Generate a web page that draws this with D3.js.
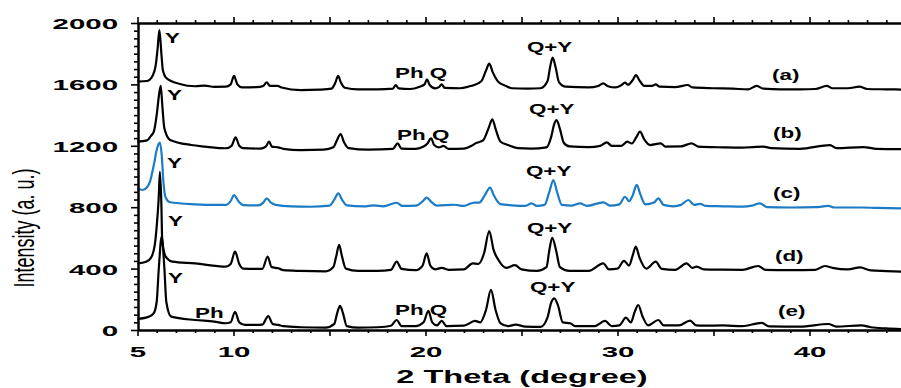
<!DOCTYPE html>
<html>
<head>
<meta charset="utf-8">
<script src="https://cdn.jsdelivr.net/npm/d3@7/dist/d3.min.js"></script>
<style>
body { margin: 0; background: #fff; }
svg { display: block; }
text { font-family: "Liberation Sans", Arial, sans-serif; }
</style>
</head>
<body>
<script>
// XRD patterns, [2 theta (deg), intensity (a.u.)]
const traceA = [[5.0,1618],[5.5,1622],[5.8,1660],[5.95,1726],[6.05,1837],[6.14,1954],[6.25,1791],[6.32,1694],[6.5,1642],[7.2,1603],[8.0,1588],[8.5,1592],[9.0,1584],[9.6,1585],[9.85,1600],[10.03,1655],[10.2,1600],[10.45,1580],[11.2,1582],[11.55,1590],[11.73,1614],[11.9,1590],[12.3,1590],[12.5,1580],[13.5,1563],[14.5,1566],[15.1,1572],[15.3,1610],[15.45,1655],[15.6,1610],[15.8,1578],[16.5,1568],[17.5,1568],[18.3,1572],[18.45,1596],[18.6,1574],[19.2,1570],[19.7,1585],[19.95,1600],[20.08,1633],[20.22,1596],[20.5,1574],[20.7,1582],[20.84,1600],[21.0,1578],[21.8,1575],[22.3,1588],[22.5,1595],[22.9,1620],[23.15,1690],[23.32,1735],[23.5,1680],[23.8,1615],[24.1,1595],[24.5,1575],[25.3,1572],[26.0,1575],[26.35,1620],[26.5,1720],[26.62,1774],[26.78,1710],[26.95,1615],[27.3,1585],[28.5,1580],[29.0,1590],[29.26,1607],[29.5,1588],[29.9,1580],[30.2,1595],[30.39,1611],[30.55,1598],[30.8,1630],[30.96,1661],[31.15,1625],[31.4,1590],[31.8,1590],[31.99,1600],[32.2,1585],[33.0,1582],[33.66,1596],[33.9,1580],[35.0,1575],[36.0,1572],[36.8,1568],[37.25,1590],[37.6,1572],[38.5,1568],[39.5,1568],[40.3,1570],[40.9,1590],[41.2,1575],[42.0,1575],[42.6,1585],[43.0,1570],[44.0,1568],[45.0,1566]];
const traceB = [[5.0,1227],[5.5,1235],[5.7,1265],[5.85,1292],[6.0,1401],[6.12,1531],[6.21,1590],[6.3,1450],[6.38,1330],[6.45,1292],[6.7,1238],[7.8,1205],[8.5,1195],[9.6,1184],[9.9,1200],[10.11,1255],[10.3,1200],[10.5,1185],[11.4,1182],[11.68,1195],[11.85,1227],[12.0,1195],[12.33,1190],[12.6,1180],[13.5,1172],[14.7,1175],[15.2,1190],[15.4,1240],[15.58,1277],[15.75,1225],[16.0,1185],[17.0,1175],[18.3,1180],[18.55,1216],[18.75,1182],[19.5,1180],[19.9,1195],[20.1,1215],[20.29,1249],[20.45,1205],[20.7,1190],[20.93,1199],[21.2,1180],[22.0,1182],[22.4,1200],[22.6,1216],[23.0,1235],[23.3,1320],[23.48,1373],[23.65,1310],[23.9,1228],[24.3,1205],[24.8,1185],[25.5,1182],[26.3,1190],[26.55,1260],[26.7,1340],[26.83,1368],[27.0,1310],[27.2,1220],[27.5,1196],[28.5,1192],[29.1,1200],[29.44,1222],[29.7,1200],[30.2,1200],[30.51,1227],[30.75,1215],[31.0,1260],[31.17,1292],[31.4,1240],[31.7,1205],[32.25,1216],[32.5,1195],[33.3,1196],[33.86,1216],[34.2,1195],[35.5,1190],[36.5,1188],[37.6,1194],[38.0,1185],[39.5,1180],[41.07,1205],[41.4,1185],[42.8,1192],[43.5,1180],[45.0,1178]];
const traceC = [[5.0,923],[5.25,912],[5.5,930],[5.65,966],[5.85,1075],[6.02,1184],[6.17,1221],[6.26,1140],[6.35,966],[6.45,868],[6.7,832],[8.0,819],[9.0,815],[9.6,815],[9.85,840],[10.03,879],[10.25,840],[10.5,814],[11.3,812],[11.55,830],[11.73,858],[11.95,830],[12.2,815],[13.0,805],[14.0,803],[15.0,810],[15.25,850],[15.46,890],[15.65,850],[15.9,812],[16.8,805],[17.3,812],[17.8,806],[18.5,829],[18.8,808],[19.5,810],[19.85,838],[20.06,862],[20.3,835],[20.6,810],[21.5,816],[22.0,808],[22.49,829],[22.8,830],[23.1,880],[23.36,928],[23.55,880],[23.9,820],[24.5,812],[25.2,808],[25.53,825],[25.8,808],[26.2,815],[26.45,900],[26.66,977],[26.85,900],[27.1,815],[27.6,810],[28.05,825],[28.4,808],[29.26,832],[29.6,810],[30.1,818],[30.39,868],[30.6,840],[30.8,880],[31.0,945],[31.2,880],[31.45,818],[31.9,830],[32.13,858],[32.4,815],[32.9,806],[33.3,815],[33.69,847],[34.0,815],[34.3,822],[34.6,808],[35.5,806],[36.5,804],[37.0,810],[37.42,825],[37.8,800],[39.0,798],[40.3,800],[40.98,808],[41.3,798],[42.7,798],[43.5,795],[45.0,792]];
const traceD = [[5.0,434],[5.45,445],[5.7,470],[5.9,554],[6.02,706],[6.1,850],[6.17,1030],[6.24,836],[6.29,575],[6.47,478],[6.82,445],[8.0,434],[9.6,413],[9.85,430],[10.08,510],[10.3,430],[10.5,400],[11.5,398],[11.78,478],[11.98,410],[12.33,402],[12.6,390],[13.5,385],[14.8,382],[15.2,410],[15.35,480],[15.5,554],[15.65,480],[15.85,400],[16.5,385],[17.5,385],[18.2,392],[18.5,445],[18.75,398],[19.5,390],[19.85,420],[20.06,500],[20.25,420],[20.5,395],[20.84,405],[21.2,392],[22.0,395],[22.46,434],[22.75,430],[23.05,500],[23.32,645],[23.55,520],[23.8,456],[24.2,405],[24.66,423],[25.0,395],[25.8,385],[26.3,410],[26.45,520],[26.6,601],[26.8,520],[27.0,410],[27.5,385],[28.5,385],[29.26,434],[29.55,395],[30.0,400],[30.34,450],[30.6,420],[30.8,490],[30.95,543],[31.15,470],[31.5,400],[31.99,445],[32.3,398],[33.0,392],[33.6,434],[33.9,405],[34.12,413],[34.5,395],[35.5,393],[36.5,392],[37.33,417],[37.7,392],[39.0,390],[40.3,392],[40.8,417],[41.2,405],[42.0,395],[42.63,408],[43.2,388],[44.0,384],[45.0,380]];
const traceE = [[5.0,72],[5.6,87],[5.85,110],[6.0,184],[6.11,402],[6.26,608],[6.4,402],[6.5,184],[6.75,87],[8.0,65],[9.0,55],[9.6,44],[9.85,50],[10.08,119],[10.3,50],[10.6,33],[11.5,35],[11.81,91],[12.05,38],[12.33,33],[12.6,25],[13.5,18],[14.8,15],[15.25,40],[15.4,110],[15.55,158],[15.7,110],[15.9,25],[16.5,15],[17.5,18],[18.2,28],[18.5,65],[18.75,25],[19.5,25],[19.9,50],[20.15,124],[20.35,50],[20.6,30],[20.84,59],[21.1,25],[22.0,28],[22.58,59],[22.85,50],[23.15,130],[23.41,261],[23.65,130],[23.9,45],[24.3,25],[24.7,35],[25.2,22],[26.0,20],[26.35,80],[26.55,180],[26.71,206],[26.9,160],[27.15,50],[27.53,44],[27.8,25],[28.8,25],[29.35,59],[29.7,25],[30.1,30],[30.44,80],[30.7,50],[30.9,120],[31.08,163],[31.3,90],[31.6,30],[32.13,65],[32.4,30],[33.2,30],[33.78,61],[34.1,30],[34.5,28],[35.5,30],[36.5,25],[37.5,47],[37.9,24],[39.5,22],[40.98,39],[41.4,22],[42.7,30],[43.2,18],[44.0,10],[45.0,4]];

const sampleNames = ["(a)", "(b)", "(c)", "(d)", "(e)"];
const sampleLabelPos = [[38.05,1629],[38.1,1251],[38.1,860],[38.2,450],[38.36,91]];

// phase labels: [text, 2theta, intensity] (text start, baseline)
const phaseLabels = [
  ["Y", 6.43, 1870], ["Y", 6.54, 1498], ["Y", 6.54, 1055], ["Y", 6.59, 678], ["Y", 6.59, 306],
  ["Ph Q", 18.41, 1642], ["Ph Q", 18.52, 1238], ["Ph Q", 18.41, 98], ["Ph", 8.0, 78],
  ["Q+Y", 25.28, 1811], ["Q+Y", 25.39, 1407], ["Q+Y", 25.23, 1003], ["Q+Y", 25.28, 632], ["Q+Y", 25.44, 248]
];

const xTickMajor = [5, 10, 15, 20, 25, 30, 35, 40, 45];
const xTickLabels = [5, 10, 20, 30, 40];
const yTickLabels = [0, 400, 800, 1200, 1600, 2000];

const width = 901, height = 388;
const traces = [traceA, traceB, traceC, traceD, traceE];
const colors = ["#000", "#000", "#1b7bc6", "#000", "#000"];
const sx = 1.9;   // horizontal stretch of the source figure's lettering
const lx = 1.6;

const svg = d3.select("body").append("svg")
  .attr("width", width).attr("height", height);

const x = d3.scaleLinear().domain([5, 45]).range([137.5, 905.5]);
const y = d3.scaleLinear().domain([0, 2000]).range([330, 23]);

// traces
const line = d3.line()
  .x(d => x(d[0]))
  .y(d => y(d[1]))
  .curve(d3.curveMonotoneX);

svg.append("g").selectAll("path")
  .data(traces)
  .join("path")
  .attr("d", line)
  .attr("fill", "none")
  .attr("stroke", (d, i) => colors[i])
  .attr("stroke-width", 2.2)
  .attr("stroke-linejoin", "round");

// axes
const minorX = d3.range(5, 46, 1).filter(v => !xTickMajor.includes(v));
const minorY = d3.range(0, 2001, 50).filter(v => !yTickLabels.includes(v));

function styleAxis(g) {
  g.select(".domain").attr("stroke-width", 2);
  g.selectAll(".tick line").attr("stroke-width", 1.6);
}

// bottom
svg.append("g").attr("transform", "translate(0,330)")
  .call(d3.axisBottom(x).tickValues(minorX).tickSize(3).tickSizeOuter(0).tickFormat(""))
  .call(styleAxis);
svg.append("g").attr("transform", "translate(0,330)")
  .call(d3.axisBottom(x).tickValues(xTickMajor).tickSize(6).tickSizeOuter(0)
    .tickFormat(d => xTickLabels.includes(d) ? d : ""))
  .call(styleAxis)
  .call(g => g.selectAll(".tick text")
    .attr("y", 27).attr("dy", 0)
    .attr("transform", `scale(${sx},1)`)
    .attr("fill", "#000")
    .style("font-size", "15.5px").style("font-weight", "bold"));

// top
svg.append("g").attr("transform", "translate(0,23)")
  .call(d3.axisTop(x).tickValues(minorX).tickSize(3).tickSizeOuter(0).tickFormat(""))
  .call(styleAxis);
svg.append("g").attr("transform", "translate(0,23)")
  .call(d3.axisTop(x).tickValues(xTickMajor).tickSize(6).tickSizeOuter(0).tickFormat(""))
  .call(styleAxis);

// left
svg.append("g").attr("transform", "translate(138,0)")
  .call(d3.axisLeft(y).tickValues(minorY).tickSize(4).tickSizeOuter(0).tickFormat(""))
  .call(styleAxis);
svg.append("g").attr("transform", "translate(138,0)")
  .call(d3.axisLeft(y).tickValues(yTickLabels).tickSize(7).tickSizeOuter(0).tickFormat(d3.format("d")))
  .call(styleAxis)
  .call(g => g.selectAll(".tick text")
    .attr("x", -20 / sx).attr("dy", "0.36em")
    .attr("transform", `scale(${sx},1)`)
    .attr("fill", "#000")
    .style("font-size", "15.5px").style("font-weight", "bold"));

// axis titles
svg.append("text")
  .attr("transform", `translate(522,383) scale(1.86,1)`)
  .attr("text-anchor", "middle")
  .style("font-size", "17.5px").style("font-weight", "bold")
  .text("2 Theta (degree)");

svg.append("text")
  .attr("transform", `translate(34,228) rotate(-90) scale(1,1.65)`)
  .attr("text-anchor", "middle")
  .style("font-size", "18px")
  .text("Intensity (a. u.)");

// annotations
svg.append("g").selectAll("text")
  .data(phaseLabels)
  .join("text")
  .attr("transform", d => `translate(${x(d[1])},${y(d[2])}) scale(${lx},1)`)
  .style("font-size", "14px").style("font-weight", "bold")
  .text(d => d[0]);

svg.append("g").selectAll("text")
  .data(sampleNames)
  .join("text")
  .attr("transform", (d, i) => `translate(${x(sampleLabelPos[i][0])},${y(sampleLabelPos[i][1])}) scale(${lx},1)`)
  .style("font-size", "14px").style("font-weight", "bold")
  .text(d => d);
</script>
</body>
</html>
